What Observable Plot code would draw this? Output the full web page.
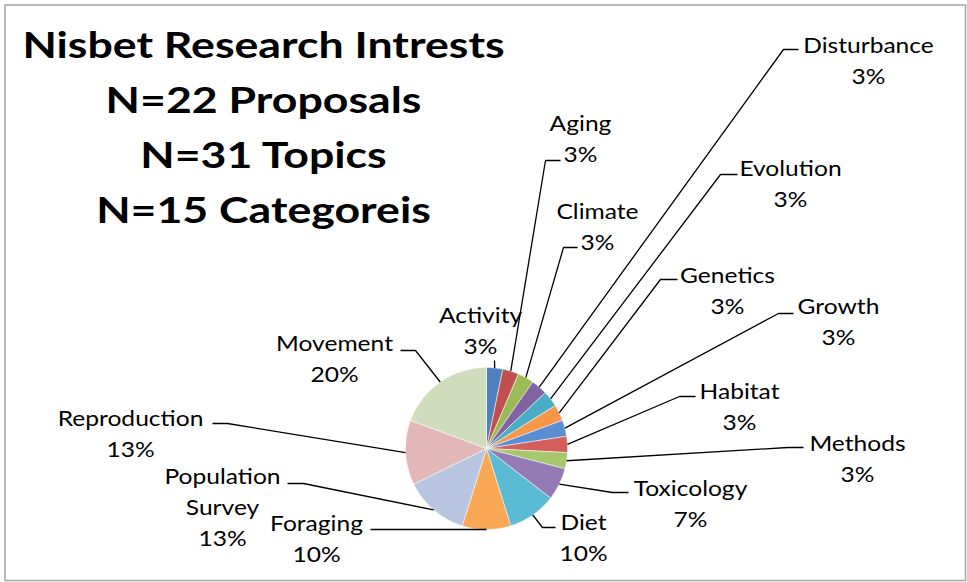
<!DOCTYPE html>
<html>
<head>
<meta charset="utf-8">
<script src="https://cdn.jsdelivr.net/npm/d3@7"></script>
<script src="https://cdn.jsdelivr.net/npm/@observablehq/plot@0.6"></script>
<style>
  html, body { margin: 0; padding: 0; background: #ffffff; }
  #chart { width: 967px; height: 582px; }
</style>
</head>
<body>
<div id="chart"></div>
<script>
// ---------- data ----------
const categories = ["Activity", "Aging", "Climate", "Disturbance", "Evolution", "Genetics", "Growth",
  "Habitat", "Methods", "Toxicology", "Diet", "Foraging", "Population Survey", "Reproduction", "Movement"];
const topicCounts = [1, 1, 1, 1, 1, 1, 1, 1, 1, 2, 3, 3, 4, 4, 6];
const percentLabels = ["3%", "3%", "3%", "3%", "3%", "3%", "3%", "3%", "3%", "7%", "10%", "10%", "13%", "13%", "20%"];
const sliceColors = ["#4F81BD", "#C0504D", "#9BBB59", "#8064A2", "#4BACC6", "#F79646", "#5A8DD3",
  "#D25F5B", "#A6C76B", "#947AB5", "#5BBAD4", "#F9A855", "#B8C5E0", "#E1B8B7", "#D0DDBC"];
const titleLines = ["Nisbet Research Intrests", "N=22 Proposals", "N=31 Topics", "N=15 Categoreis"];

// ---------- layout (pixel space of the 967x582 canvas) ----------
const pieGeom = {cx: 486, cy: 448, r: 81};
const titleLayout = {x: 263, baselines: [57, 112, 167, 222], fontSize: 36, stretch: 1.24};
const labelStyle = {fontSize: 21, gap: 31, stretch: 1.17};
// per category: label centre x, first baseline y, wrapped name lines, leader path after the slice-edge point
const labelLayout = {
  "Activity":          {x: 480, y: 322, leader: [[494, 360]]},
  "Aging":             {x: 580, y: 130, leader: [[545, 160], [560, 160]]},
  "Climate":           {x: 597, y: 218, leader: [[563, 247], [577, 247]]},
  "Disturbance":       {x: 868, y: 52,  leader: [[783, 49], [798, 49]]},
  "Evolution":         {x: 790, y: 175, leader: [[720, 174], [737, 174]]},
  "Genetics":          {x: 727, y: 282, leader: [[660, 279], [677, 279]]},
  "Growth":            {x: 838, y: 313, leader: [[778, 313], [793, 313]]},
  "Habitat":           {x: 739, y: 398, leader: [[679, 396], [695, 396]]},
  "Methods":           {x: 857, y: 450, leader: [[787, 447], [803, 447]]},
  "Toxicology":        {x: 690, y: 495, leader: [[612, 492], [628, 492]]},
  "Diet":              {x: 583, y: 529, leader: [[542, 527], [555, 527]]},
  "Foraging":          {x: 316, y: 530, leader: [[370, 529]]},
  "Population Survey": {x: 222, y: 483, wrap: ["Population", "Survey"], leader: [[303, 483], [287, 483]]},
  "Reproduction":      {x: 130, y: 425, leader: [[227, 423], [212, 423]]},
  "Movement":          {x: 334, y: 350, leader: [[415, 350], [400, 350]]}
};

// ---------- derived ----------
const rows = categories.map((name, i) => ({name, count: topicCounts[i], pct: percentLabels[i], color: sliceColors[i]}));
const arcs = d3.pie().sort(null).value(d => d.count)(rows);
const px = t => pieGeom.cx + pieGeom.r * Math.sin(t);
const py = t => pieGeom.cy - pieGeom.r * Math.cos(t);

const slicePts = arcs.flatMap(a => {
  const n = Math.max(4, Math.ceil((a.endAngle - a.startAngle) / (Math.PI / 360)));
  const c = {name: a.data.name, color: a.data.color, x: pieGeom.cx, y: pieGeom.cy};
  const pts = [c];
  for (let k = 0; k <= n; k++) {
    const t = a.startAngle + (a.endAngle - a.startAngle) * k / n;
    pts.push({name: a.data.name, color: a.data.color, x: px(t), y: py(t)});
  }
  pts.push(c);
  return pts;
});

const leaderPts = arcs.flatMap(a => {
  const mid = (a.startAngle + a.endAngle) / 2;
  const L = labelLayout[a.data.name];
  return [{name: a.data.name, x: px(mid), y: py(mid)},
    ...L.leader.map(([x, y]) => ({name: a.data.name, x, y}))];
});

const labelRows = rows.flatMap(r => {
  const L = labelLayout[r.name];
  const lines = [...(L.wrap || [r.name]), r.pct];
  return lines.map((text, i) => ({text, x: L.x, y: L.y + i * labelStyle.gap}));
});

const titleRows = titleLines.map((text, i) => ({text, x: titleLayout.x, y: titleLayout.baselines[i]}));

const chart = Plot.plot({
  width: 967,
  height: 582,
  margin: 0,
  x: {domain: [0, 967], range: [0, 967], axis: null},
  y: {domain: [0, 582], range: [0, 582], axis: null},
  color: {type: "identity"},
  style: {fontFamily: "Lato, 'Noto Sans', sans-serif", background: "#ffffff", overflow: "visible"},
  marks: [
    Plot.frame({stroke: "#a6a6a6", strokeWidth: 1.5, insetLeft: 4.5, insetTop: 4.5, insetRight: 2, insetBottom: 2}),
    Plot.line(slicePts, {x: "x", y: "y", z: "name", fill: "color", stroke: "#ffffff", strokeWidth: 0.7, strokeOpacity: 0.75, strokeLinejoin: "round"}),
    Plot.line(leaderPts, {x: "x", y: "y", z: "name", stroke: "#000000", strokeWidth: 1.3, strokeLinejoin: "miter", strokeLinecap: "butt"}),
    Plot.text(labelRows, {x: "x", y: "y", text: "text", lineAnchor: "bottom", fontSize: labelStyle.fontSize, fill: "#000000"}),
    Plot.text(titleRows, {x: "x", y: "y", text: "text", lineAnchor: "bottom", fontSize: titleLayout.fontSize, fontWeight: "bold", fill: "#000000"})
  ]
});
document.getElementById("chart").appendChild(chart);

// widen the text horizontally (the original Calibri rendering is broader than the substitute font)
const textGroups = chart.querySelectorAll('g[aria-label="text"]');
const stretchGroup = (g, factor) => {
  if (!g) return;
  g.querySelectorAll("text").forEach(t => {
    const w = t.getComputedTextLength();
    if (w > 0) {
      t.setAttribute("textLength", (w * factor).toFixed(1));
      t.setAttribute("lengthAdjust", "spacingAndGlyphs");
    }
  });
};
stretchGroup(textGroups[0], labelStyle.stretch);
stretchGroup(textGroups[1], titleLayout.stretch);
</script>
</body>
</html>
